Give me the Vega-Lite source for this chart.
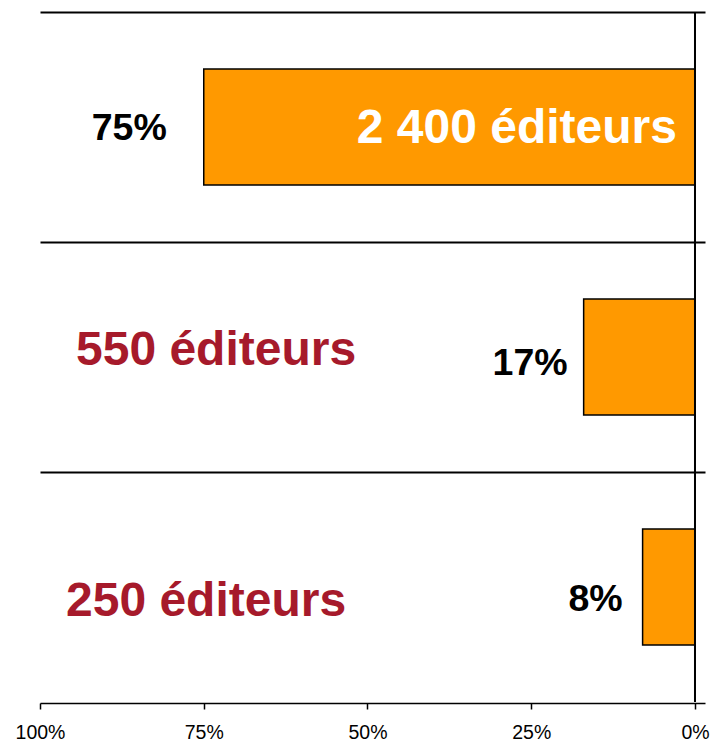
{
  "$schema": "https://vega.github.io/schema/vega-lite/v6.json",
  "autosize": "none",
  "width": 665,
  "height": 690,
  "padding": {"left": 40, "top": 12, "right": 6, "bottom": 42},
  "background": "white",
  "config": {"view": {"stroke": null}, "font": "Liberation Sans"},
  "data": {
    "values": [
      {"groupe": "A", "part": 75, "partLabel": "75%", "editeurs": "2 400 éditeurs"},
      {"groupe": "B", "part": 17, "partLabel": "17%", "editeurs": "550 éditeurs"},
      {"groupe": "C", "part": 8, "partLabel": "8%", "editeurs": "250 éditeurs"}
    ]
  },
  "layer": [
    {
      "mark": {"type": "bar", "color": "#FF9900", "stroke": "black", "strokeWidth": 1.5, "height": {"band": 0.504}},
      "encoding": {
        "y": {
          "field": "groupe", "type": "nominal", "sort": null,
          "scale": {"paddingInner": 0, "paddingOuter": 0},
          "axis": {"title": null, "labels": false, "ticks": false, "domain": false, "grid": true, "bandPosition": 0, "gridColor": "black", "gridWidth": 2, "gridOpacity": 1}
        },
        "x": {
          "field": "part", "type": "quantitative",
          "scale": {"domain": [100, -1.527], "nice": false, "zero": false},
          "axis": {
            "title": null, "values": [100, 75, 50, 25, 0], "labelExpr": "datum.value + '%'",
            "grid": false, "domainColor": "black", "domainWidth": 1.5, "tickColor": "black", "tickWidth": 1.5, "tickSize": 6,
            "labelFont": "Liberation Sans", "labelFontSize": 19.5, "labelColor": "black", "labelPadding": 14, "offset": 1,
            "labelFlush": false, "labelOverlap": false
          }
        }
      }
    },
    {
      "mark": {"type": "rule", "color": "black", "strokeWidth": 2},
      "encoding": {"x": {"datum": 0}}
    },
    {
      "transform": [{"filter": "datum.groupe === 'A'"}],
      "mark": {"type": "text", "align": "right", "baseline": "alphabetic", "dx": -37, "dy": 13, "fontSize": 37.5, "fontWeight": "bold", "color": "black", "font": "Liberation Sans"},
      "encoding": {"y": {"field": "groupe", "type": "nominal", "sort": null}, "x": {"field": "part", "type": "quantitative"}, "text": {"field": "partLabel"}}
    },
    {
      "transform": [{"filter": "datum.groupe === 'A'"}],
      "mark": {"type": "text", "align": "right", "baseline": "alphabetic", "dx": -18, "dy": 16, "fontSize": 48, "fontWeight": "bold", "color": "white", "font": "Liberation Sans"},
      "encoding": {"y": {"field": "groupe", "type": "nominal", "sort": null}, "x": {"datum": 0}, "text": {"field": "editeurs"}}
    },
    {
      "transform": [{"filter": "datum.groupe === 'B'"}],
      "mark": {"type": "text", "align": "right", "baseline": "alphabetic", "dx": -16, "dy": 18, "fontSize": 37.5, "fontWeight": "bold", "color": "black", "font": "Liberation Sans"},
      "encoding": {"y": {"field": "groupe", "type": "nominal", "sort": null}, "x": {"field": "part", "type": "quantitative"}, "text": {"field": "partLabel"}}
    },
    {
      "transform": [{"filter": "datum.groupe === 'B'"}],
      "mark": {"type": "text", "align": "left", "baseline": "alphabetic", "dx": 36, "dy": 8, "fontSize": 48, "fontWeight": "bold", "color": "#A61A2B", "font": "Liberation Sans"},
      "encoding": {"y": {"field": "groupe", "type": "nominal", "sort": null}, "x": {"datum": 100}, "text": {"field": "editeurs"}}
    },
    {
      "transform": [{"filter": "datum.groupe === 'C'"}],
      "mark": {"type": "text", "align": "right", "baseline": "alphabetic", "dx": -20, "dy": 24, "fontSize": 37.5, "fontWeight": "bold", "color": "black", "font": "Liberation Sans"},
      "encoding": {"y": {"field": "groupe", "type": "nominal", "sort": null}, "x": {"field": "part", "type": "quantitative"}, "text": {"field": "partLabel"}}
    },
    {
      "transform": [{"filter": "datum.groupe === 'C'"}],
      "mark": {"type": "text", "align": "left", "baseline": "alphabetic", "dx": 26, "dy": 29, "fontSize": 48, "fontWeight": "bold", "color": "#A61A2B", "font": "Liberation Sans"},
      "encoding": {"y": {"field": "groupe", "type": "nominal", "sort": null}, "x": {"datum": 100}, "text": {"field": "editeurs"}}
    }
  ]
}
